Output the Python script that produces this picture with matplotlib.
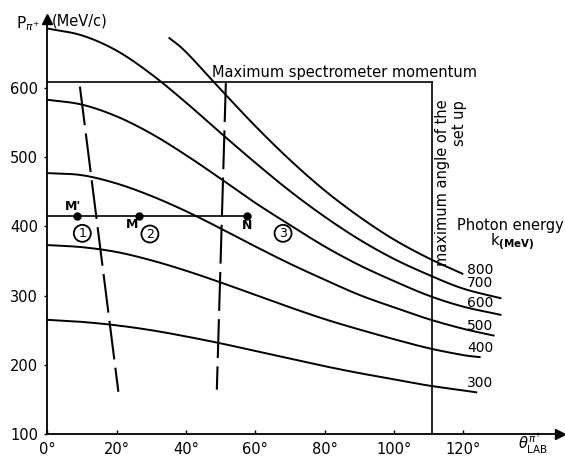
import matplotlib
matplotlib.use("Agg")
import matplotlib.pyplot as plt
import numpy as np

plt.rcParams['font.family'] = ['DejaVu Sans']
plt.rcParams['mathtext.fontset'] = 'dejavusans'

# Lab pion momentum (MeV/c) vs lab angle (deg) for each photon energy k (MeV)
energies = [300, 400, 500, 600, 700, 800]
angles = {
    300: [0, 10, 20, 30, 40, 50, 60, 70, 80, 90, 100, 110, 120, 124],
    400: [0, 10, 20, 30, 40, 50, 60, 70, 80, 90, 100, 110, 120, 125],
    500: [0, 10, 20, 30, 40, 50, 60, 70, 80, 90, 100, 110, 120, 129],
    600: [0, 10, 20, 30, 40, 50, 60, 70, 80, 90, 100, 110, 120, 131],
    700: [0, 10, 20, 30, 40, 50, 60, 70, 80, 90, 100, 110, 120, 131],
    800: [35, 40, 50, 60, 70, 80, 90, 100, 110, 120],
}
momenta = {
    300: [265, 262, 257, 250, 241, 231, 220, 209, 198, 188, 179, 170, 163, 160],
    400: [373, 370, 363, 351, 336, 319, 301, 283, 266, 251, 237, 224, 214, 211],
    500: [477, 474, 462, 444, 422, 397, 371, 346, 323, 301, 283, 266, 252, 242],
    600: [583, 576, 559, 534, 503, 469, 434, 402, 371, 344, 321, 300, 284, 272],
    700: [686, 676, 654, 620, 579, 535, 492, 451, 414, 381, 353, 330, 310, 296],
    800: [673, 652, 598, 545, 496, 452, 414, 381, 354, 331],
}
label_pos = {800: 337, 700: 318, 600: 290, 500: 256, 400: 225, 300: 173}

# Spectrometer limits
p_max = 608
theta_max = 111

# Working line and points
p_line = 415
point_names = ["M'", "M", "N"]
point_angles = [8.5, 26.5, 57.7]

# Dashed boundaries
dash1_theta = [9.4, 20.5]
dash1_p = [602, 161]
dash2_theta = [51.5, 48.9]
dash2_p = [607, 164]

# Region numbers
region_labels = ["1", "2", "3"]
region_theta = [10.1, 29.6, 68.0]
region_p = [390, 389, 390]

x_ticks = [0, 20, 40, 60, 80, 100, 120]
y_ticks = [100, 200, 300, 400, 500, 600]


def smooth(x, y, n=12):
    """Catmull-Rom path through the given points, for drawing only."""
    x = np.asarray(x, float)
    y = np.asarray(y, float)
    px = np.concatenate([[2 * x[0] - x[1]], x, [2 * x[-1] - x[-2]]])
    py = np.concatenate([[2 * y[0] - y[1]], y, [2 * y[-1] - y[-2]]])
    xs, ys = [], []
    t = np.linspace(0, 1, n, endpoint=False)
    for i in range(1, len(px) - 2):
        for arr, out in ((px, xs), (py, ys)):
            p0, p1, p2, p3 = arr[i - 1], arr[i], arr[i + 1], arr[i + 2]
            out.extend(0.5 * ((2 * p1) + (-p0 + p2) * t
                              + (2 * p0 - 5 * p1 + 4 * p2 - p3) * t ** 2
                              + (-p0 + 3 * p1 - 3 * p2 + p3) * t ** 3))
    xs.append(x[-1])
    ys.append(y[-1])
    return np.array(xs), np.array(ys)


fig = plt.figure(figsize=(5.65, 4.58), dpi=100)
ax = fig.add_axes([47.3 / 565, 24 / 458, 513.1 / 565, 415.2 / 458])
ax.set_xlim(0, 148)
ax.set_ylim(100, 700)

lw = 1.4
for k in energies:
    xs, ys = smooth(angles[k], momenta[k])
    ax.plot(xs, ys, color='black', lw=lw, solid_capstyle='butt')
    ax.text(124.8, label_pos[k], str(k), fontsize=10, ha='center', va='center')

# Spectrometer acceptance frame
ax.plot([0, theta_max], [p_max, p_max], color='black', lw=1.2)
ax.plot([theta_max, theta_max], [100, p_max], color='black', lw=1.2)
ax.text(47.5, p_max + 4, "Maximum spectrometer momentum", fontsize=10.5,
        ha='left', va='bottom')
ax.text(114.1, 583, "maximum angle of the", fontsize=10.5, rotation=90,
        ha='center', va='top')
ax.text(119.0, 583, "set up", fontsize=10.5, rotation=90,
        ha='center', va='top')

# Dashed boundaries
dash_lw = 1.5
for xt, yp in ((dash1_theta, dash1_p), (dash2_theta, dash2_p)):
    ax.plot(xt, yp, color='black', lw=dash_lw,
            dashes=(28 / dash_lw, 6 / dash_lw))

# Working momentum line and points
ax.plot([0, point_angles[-1]], [p_line, p_line], color='black', lw=1.2)
ax.plot(point_angles, [p_line] * 3, 'o', color='black', ms=5)
ax.text(7.3, 429, "M'", fontsize=9, ha='center', va='center', fontweight='bold')
ax.text(24.4, 403, "M", fontsize=9, ha='center', va='center', fontweight='bold')
ax.text(57.7, 402, "N", fontsize=9, ha='center', va='center', fontweight='bold')

for lab, xt, yp in zip(region_labels, region_theta, region_p):
    ax.text(xt, yp, lab, fontsize=9, ha='center', va='center',
            bbox=dict(boxstyle='circle,pad=0.16', fc='none', ec='black', lw=1.3))

# Photon energy legend
ax.text(133.7, 402, "Photon energy", fontsize=10.5, ha='center', va='center')
ax.text(134.0, 377, r"k$_{\mathbf{(MeV)}}$", fontsize=10.5, ha='center', va='center')

# Axes styling
for side in ('top', 'right'):
    ax.spines[side].set_visible(False)
for side in ('left', 'bottom'):
    ax.spines[side].set_linewidth(1.3)
ax.plot(1, 100, '>', color='black', ms=7, transform=ax.get_yaxis_transform(),
        clip_on=False)
ax.plot(0, 1, '^', color='black', ms=7, transform=ax.get_xaxis_transform(),
        clip_on=False)

ax.set_xticks(x_ticks)
ax.set_xticklabels([f"{t}°" for t in x_ticks], fontsize=10.5)
ax.set_yticks(y_ticks)
ax.set_yticklabels([str(v) for v in y_ticks], fontsize=10.5)
ax.tick_params(axis='x', direction='in', length=3, width=1, pad=6)
ax.tick_params(axis='y', direction='out', length=2.5, width=1, pad=4)

# Axis titles
fig.text(40 / 565, 1 - 24 / 458, r"P$_{\pi^{+}}$", fontsize=11,
         ha='right', va='center')
fig.text(52 / 565, 1 - 21 / 458, "(MeV/c)", fontsize=10.5, ha='left', va='center')
fig.text(533 / 565, 1 - 444 / 458, r"$\theta^{\pi^{+}}_{\mathrm{LAB}}$",
         fontsize=10.5, ha='center', va='center')

fig.savefig("out.png", dpi=100)
